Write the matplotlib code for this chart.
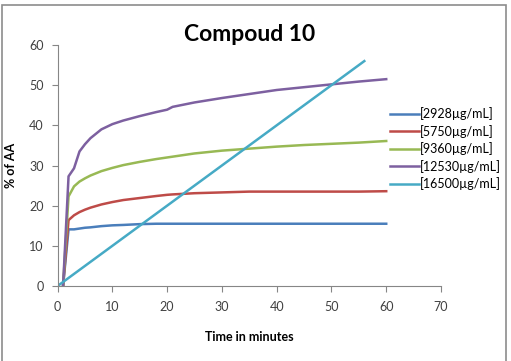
import matplotlib.pyplot as plt
from matplotlib.patches import Rectangle

plt.rcParams['font.family'] = ['Lato', 'DejaVu Sans']

t = [1, 2, 3, 4, 5, 6, 8, 10, 12, 15, 18, 20, 21, 25, 30, 35, 40, 45, 50, 55, 60]
c2928 = [0, 14.1, 14.1, 14.3, 14.5, 14.6, 14.9, 15.1, 15.2, 15.4, 15.5, 15.5, 15.5,
         15.5, 15.5, 15.5, 15.5, 15.5, 15.5, 15.5, 15.5]
c5750 = [0, 16.4, 17.6, 18.4, 19.0, 19.5, 20.3, 20.9, 21.4, 21.9, 22.4, 22.7, 22.8,
         23.1, 23.3, 23.5, 23.5, 23.5, 23.5, 23.5, 23.6]
c9360 = [0, 22.3, 24.8, 26.0, 26.8, 27.5, 28.6, 29.4, 30.1, 30.9, 31.6, 32.0, 32.2,
         33.0, 33.7, 34.2, 34.7, 35.1, 35.4, 35.7, 36.1]
c12530 = [0, 27.3, 29.3, 33.5, 35.3, 36.8, 39.0, 40.3, 41.2, 42.3, 43.3, 43.9, 44.6,
          45.7, 46.8, 47.8, 48.8, 49.5, 50.2, 50.9, 51.5]
t16500 = [0, 5, 10, 15, 20, 25, 30, 35, 40, 45, 50, 55, 56]
c16500 = [0, 5, 10, 15, 20, 25, 30, 35, 40, 45, 50, 55, 56]

labels = ['[2928µg/mL]', '[5750µg/mL]', '[9360µg/mL]', '[12530µg/mL]', '[16500µg/mL]']
colors = ['#4A7EBB', '#BE4B48', '#98B954', '#7D60A0', '#46AAC5']

fig = plt.figure(figsize=(5.11, 3.61), dpi=100)
fig.patches.append(Rectangle((0.004, -0.05), 0.986, 1.036, transform=fig.transFigure,
                             fill=False, edgecolor='#8c8c8c', linewidth=1.2))
ax = fig.add_axes([0.1127, 0.2078, 0.7503, 0.6675])

series = [(t, c2928), (t, c5750), (t, c9360), (t, c12530), (t16500, c16500)]
for (x, y), lab, col in zip(series, labels, colors):
    ax.plot(x, y, color=col, linewidth=1.8, label=lab)

ax.set_xlim(0, 70)
ax.set_ylim(0, 60)
ax.set_xticks(range(0, 71, 10))
ax.set_yticks(range(0, 61, 10))
for s in ['top', 'right']:
    ax.spines[s].set_visible(False)
for s in ['left', 'bottom']:
    ax.spines[s].set_color('#868686')
ax.tick_params(colors='#868686', labelcolor='#404040', labelsize=9, length=4, direction='out')
ax.tick_params(axis='x', pad=7)
ax.tick_params(axis='y', pad=6)

ax.set_title('Compoud 10', fontsize=16.5, fontweight='bold', pad=3)
ax.set_xlabel('Time in minutes', fontsize=9, fontweight='bold', labelpad=13)
ax.set_ylabel('% of AA', fontsize=9, fontweight='bold', labelpad=9)

fig.legend(loc='upper left', bbox_to_anchor=(0.753, 0.717), frameon=False, fontsize=9,
           handlelength=2.3, handletextpad=0.1, labelspacing=0.36, borderaxespad=0)

fig.savefig('out.png', dpi=100)
